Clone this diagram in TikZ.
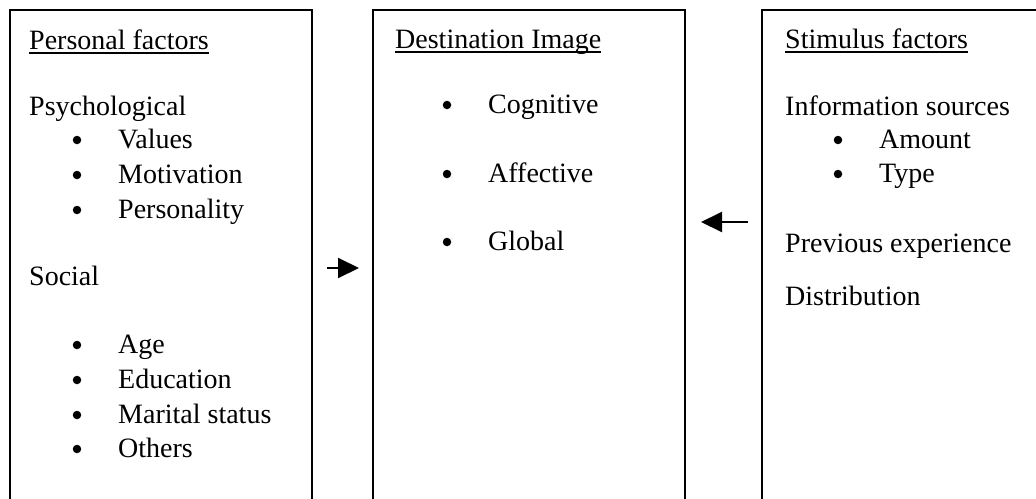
\documentclass[tikz,border=0pt]{standalone}
\usepackage{fontspec}
\setmainfont{Liberation Serif}
\usetikzlibrary{arrows.meta}
\tikzset{
  frame/.style={draw, line width=2.5pt},
  txt/.style={anchor=base west, inner sep=0pt, font=\fontsize{28}{32}\selectfont},
  dot/.style={circle, fill, inner sep=0pt, minimum size=8.5pt},
  uline/.style={line width=1.4pt},
  flow/.style={line width=2pt, -{Triangle[length=21pt,width=20pt]}}
}
% bullet item: name, x of text, baseline y, text
\newcommand\bitem[4]{%
  \node[dot] (#1-dot) at (#2-41,#3-8) {};
  \node[txt] (#1) at (#2,#3) {#4};}
% underlined heading: name, x, baseline y, text
\newcommand\heading[4]{%
  \node[txt] (#1) at (#2,#3) {#4};
  \draw[uline] ([yshift=-4pt]#1.base west) -- ([yshift=-4pt]#1.base east);}
\begin{document}
\begin{tikzpicture}[x=1pt,y=-1pt]
\useasboundingbox (0,0) rectangle (1036,498);
\begin{scope}
\clip (0,0) rectangle (1036,498);
\draw[frame] (10,10) rectangle (312,520);
\draw[frame] (373,10) rectangle (685,520);
\draw[frame] (762,10) rectangle (1050,520);
\end{scope}

% personal factors
\heading{pf}{29}{49}{Personal factors}
\node[txt] (psy) at (29,115) {Psychological};
\bitem{val}{118}{148}{Values}
\bitem{mot}{118}{183}{Motivation}
\bitem{per}{118}{218}{Personality}
\node[txt] (soc) at (29,285) {Social};
\bitem{age}{118}{353}{Age}
\bitem{edu}{118}{388}{Education}
\bitem{mar}{118}{423}{Marital status}
\bitem{oth}{118}{457}{Others}

% destination image
\heading{di}{395}{48}{Destination Image}
\bitem{cog}{488}{113}{Cognitive}
\bitem{aff}{488}{182}{Affective}
\bitem{glo}{488}{250}{Global}

% stimulus factors
\heading{sf}{785}{48}{Stimulus factors}
\node[txt] (inf) at (785,115) {Information sources};
\bitem{amo}{879}{148}{Amount}
\bitem{typ}{879}{182}{Type}
\node[txt] (pre) at (785,252) {Previous experience};
\node[txt] (dis) at (785,305) {Distribution};

% influence arrows
\coordinate (a1s) at (327,268);
\coordinate (a1e) at (359,268);
\coordinate (a2s) at (748,222);
\coordinate (a2e) at (701,222);
\draw[flow] (a1s) -- (a1e);
\draw[flow] (a2s) -- (a2e);
\end{tikzpicture}
\end{document}
